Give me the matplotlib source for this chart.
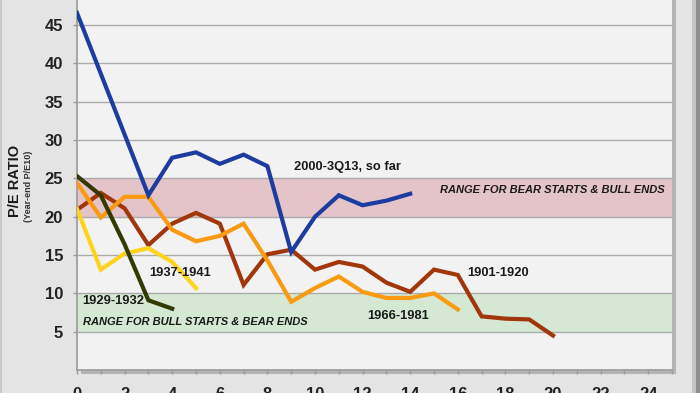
import matplotlib.pyplot as plt
from matplotlib.patches import Rectangle
from matplotlib.ticker import MultipleLocator
import numpy as np

plt.rcParams['font.family'] = ['Liberation Sans', 'DejaVu Sans']

# P/E10 at year-end, by years since the start of the secular bear
pe_2000 = [46.6, None, None, 22.8, 27.7, 28.4, 26.9, 28.1, 26.6, 15.4, 20.0, 22.8, 21.5, 22.1, 23.0]
pe_1901 = [20.9, 23.1, 21.1, 16.3, 19.1, 20.5, 19.1, 11.1, 15.1, 15.7, 13.1, 14.1, 13.5, 11.4, 10.2,
           13.1, 12.4, 7.0, 6.7, 6.6, 4.5]
pe_1966 = [24.4, 19.9, 22.6, 22.6, 18.3, 16.8, 17.5, 19.1, 14.3, 8.9, 10.7, 12.2, 10.2, 9.4, 9.4, 10.0, 7.9]
pe_1937 = [21.0, 13.1, 15.2, 15.9, 14.1, 10.7]
pe_1929 = [25.3, 22.8, 16.4, 9.1, 8.0]

# blue line: only the points that are drawn (years 1-2 are skipped straight to 3)
x_2000 = [0, 3, 4, 5, 6, 7, 8, 9, 10, 11, 12, 13, 14]
y_2000 = [v for v in pe_2000 if v is not None]

bear_band = (20, 25)
bull_band = (5, 10)

fig = plt.figure(figsize=(7, 3.93), dpi=100)
fig.patch.set_facecolor('#e4e4e4')

left, bottom, width, height = 0.11, 0.0585, 0.85, 0.975
ax = fig.add_axes([left, bottom, width, height])
ax.set_facecolor('#f2f2f2')

# drop shadow behind plot area and frame edges
fig.patches.append(Rectangle((left + 4 / 700, bottom - 4 / 393), width, height,
                             transform=fig.transFigure, facecolor='#b4b4b4', edgecolor='none', zorder=-1))
fig.patches.append(Rectangle((692 / 700, 0), 8 / 700, 1, transform=fig.transFigure,
                             facecolor='#c4c4c4', edgecolor='none', zorder=-1))
fig.patches.append(Rectangle((696 / 700, 0), 4 / 700, 1, transform=fig.transFigure,
                             facecolor='#8e8e8e', edgecolor='none', zorder=-1))
fig.patches.append(Rectangle((0, 0), 2 / 700, 1, transform=fig.transFigure,
                             facecolor='#c8c8c8', edgecolor='none', zorder=-1))

ax.axhspan(*bear_band, color='#e4c4c9', lw=0, zorder=1)
ax.axhspan(*bull_band, color='#d4e8d4', lw=0, zorder=1)

for y in range(5, 50, 5):
    ax.axhline(y, color='#ababab', lw=1.0, zorder=1.5)

lw = 3
ax.plot(range(len(pe_1901)), pe_1901, color='#a0360a', lw=lw, solid_joinstyle='miter', zorder=3)
ax.plot(range(len(pe_1966)), pe_1966, color='#f99a10', lw=lw, solid_joinstyle='miter', zorder=3.2)
ax.plot(range(len(pe_1937)), pe_1937, color='#ffd31c', lw=lw, solid_joinstyle='miter', zorder=3.3)
ax.plot(range(len(pe_1929)), pe_1929, color='#333a00', lw=lw, solid_joinstyle='miter', zorder=3.4)
ax.plot(x_2000, y_2000, color='#1c3d9f', lw=lw, solid_joinstyle='miter', zorder=3.5)

lab = dict(fontsize=9.3, fontweight='bold', color='#1a1a1a', va='center', zorder=4)
ax.text(9.1, 26.5, '2000-3Q13, so far', **lab)
ax.text(16.4, 12.7, '1901-1920', **lab)
ax.text(12.2, 7.0, '1966-1981', **lab)
ax.text(3.05, 12.7, '1937-1941', **lab)
ax.text(0.2, 9.0, '1929-1932', **lab)

band = dict(fontsize=8, fontweight='bold', style='italic', color='#1a1a1a', va='center', zorder=4)
ax.text(24.7, 23.5, 'RANGE FOR BEAR STARTS & BULL ENDS', ha='right', **band)
ax.text(0.25, 6.2, 'RANGE FOR BULL STARTS & BEAR ENDS', ha='left', **band)

ax.set_xlim(0, 25)
ax.set_ylim(0, 50)
ax.xaxis.set_major_locator(MultipleLocator(2))
ax.xaxis.set_minor_locator(MultipleLocator(1))
ax.set_yticks(np.arange(5, 50, 5))

for s in ['top', 'right']:
    ax.spines[s].set_visible(False)
for s in ['left', 'bottom']:
    ax.spines[s].set_color('#9a9a9a')
    ax.spines[s].set_linewidth(1.2)

ax.tick_params(axis='both', which='both', color='#9a9a9a', length=3, width=1)
ax.tick_params(axis='x', pad=9, labelsize=12, labelcolor='#222222')
ax.tick_params(axis='y', pad=7, labelsize=12, labelcolor='#222222')
for t in ax.get_xticklabels() + ax.get_yticklabels():
    t.set_fontweight('bold')

fig.text(15 / 700, 1 - 181 / 393, 'P/E RATIO', rotation=90, fontsize=10.5, fontweight='bold',
         color='#1a1a1a', ha='center', va='center')
fig.text(29 / 700, 1 - 186 / 393, '(Year-end P/E10)', rotation=90, fontsize=6.5, fontweight='bold',
         color='#333333', ha='center', va='center')

fig.savefig('out.png', dpi=100, facecolor=fig.get_facecolor())
